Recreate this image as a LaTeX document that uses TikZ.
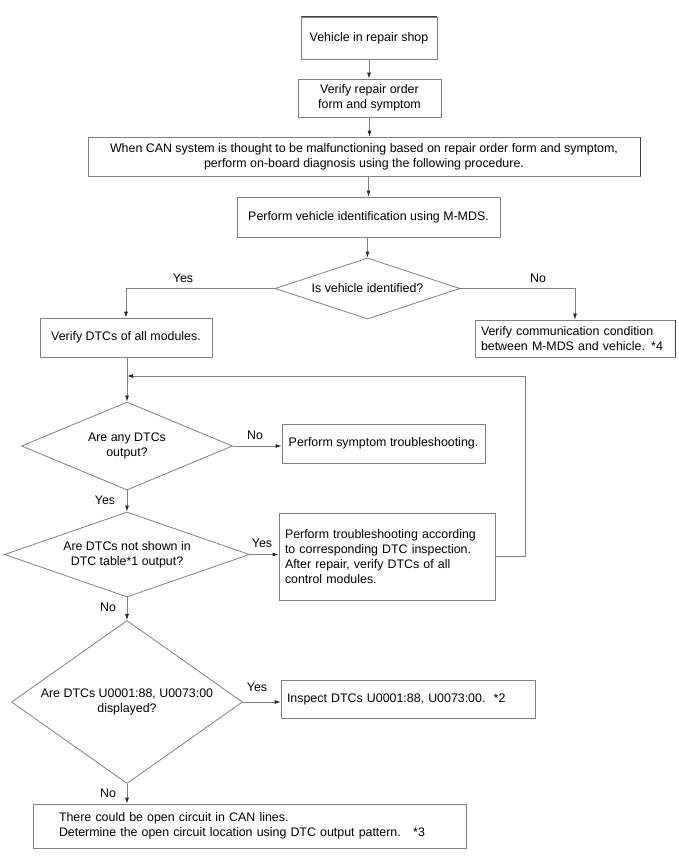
\documentclass[tikz,border=0pt]{standalone}
\usepackage{fontspec}
\setmainfont{Liberation Sans}
\usetikzlibrary{shapes.geometric,arrows.meta}
\begin{document}
\begin{tikzpicture}[x=1pt,y=-1pt,
  every node/.style={font=\fontsize{12.4}{15}\selectfont},
  ln/.style={draw=black!50, line width=0.8pt},
  arr/.style={ln, -{Latex[length=6pt,width=4pt,color=black!85,fill=black!85]}},
  box/.style={ln, rectangle, inner sep=0pt, align=center},
  dia/.style={ln, diamond, inner sep=0pt, align=center},
  lbl/.style={inner sep=0pt},
  edge/.style={draw=black!75, line width=1.5pt}
]
\useasboundingbox (0,0) rectangle (679,857);

\node[box, minimum width=136, minimum height=42] (b1) at (369,38) {Vehicle in repair shop};
\node[box, minimum width=143, minimum height=38] (b2) at (369.5,98) {Verify repair order\\form and symptom};
\node[box, minimum width=552, minimum height=39] (b3) at (364,156.5) {When CAN system is thought to be malfunctioning based on repair order form and symptom,\\perform on-board diagnosis using the following procedure.};
\node[box, minimum width=263, minimum height=40] (b4) at (368.5,217) {Perform vehicle identification using M-MDS.};
\node[dia, minimum width=185, minimum height=61, aspect=3] (d1) at (367.5,288.5) {Is vehicle identified?};
\node[box, minimum width=172, minimum height=39] (b5) at (126,337.5) {Verify DTCs of all modules.};
\node[box, text width=188, inner xsep=6pt, align=left, minimum height=37] (b6) at (575,338.5) {Verify communication condition\\between M-MDS and vehicle. *4};
\node[dia, minimum width=211, minimum height=88, aspect=2.4] (d2) at (127,446) {Are any DTCs\\output?};
\node[box, minimum width=203, minimum height=39] (b7) at (383.5,443.5) {Perform symptom troubleshooting.};
\node[dia, minimum width=245, minimum height=85, aspect=2.9] (d3) at (127,554.5) {Are DTCs not shown in\\DTC table*1 output?};
\node[box, text width=204, inner xsep=6pt, align=left, minimum height=87] (b8) at (387,556.5) {Perform troubleshooting according\\to corresponding DTC inspection.\\After repair, verify DTCs of all\\control modules.};
\node[dia, minimum width=231, minimum height=163, aspect=1.42] (d4) at (127,702) {Are DTCs U0001:88, U0073:00\\displayed?};
\node[box, text width=242, inner xsep=6pt, align=left, minimum height=38] (b9) at (408,699) {Inspect DTCs U0001:88, U0073:00.\ \ *2};
\node[box, text width=381, inner xsep=26pt, align=left, minimum height=44] (b10) at (249.5,826) {There could be open circuit in CAN lines.\\Determine the open circuit location using DTC output pattern.\ \ \ *3};

\draw[edge] (b1.north west) -- (b1.north east);
\draw[edge] (b3.north east) -- (b3.south east);
\draw[edge] (b6.north east) -- (b6.south east);

\draw[arr] (b1.south) -- (b1.south |- b2.north);
\draw[arr] (b2.south) -- (b2.south |- b3.north);
\draw[arr] (b4.north |- b3.south) -- (b4.north);
\draw[arr] (d1.north |- b4.south) -- (d1.north);
\draw[arr] (d1.west) -| (b5.north);
\draw[arr] (d1.east) -| (b6.north);
\draw[arr] (d2.north |- b5.south) -- (d2.north);
\draw[arr] (d2.east) -- (d2.east -| b7.west);
\draw[arr] (d2.south) -- (d3.north);
\draw[arr] (d3.east) -- (d3.east -| b8.west);
\draw[arr] (d3.south) -- (d4.north);
\draw[arr] (d4.east) -- (d4.east -| b9.west);
\draw[arr] (d4.south) -- (d4.south |- b10.north);
\coordinate (lp) at (525,376);
\draw[arr] (b8.east) -| (lp) -- (d2.north |- lp);

\node[lbl] (yes1) at (183,278) {Yes};
\node[lbl] (no1) at (538,278) {No};
\node[lbl] (no2) at (255,435) {No};
\node[lbl] (yes2) at (105,500) {Yes};
\node[lbl] (yes3) at (262,543) {Yes};
\node[lbl] (no3) at (108,607) {No};
\node[lbl] (yes4) at (257,687) {Yes};
\node[lbl] (no4) at (108,793) {No};
\end{tikzpicture}
\end{document}
